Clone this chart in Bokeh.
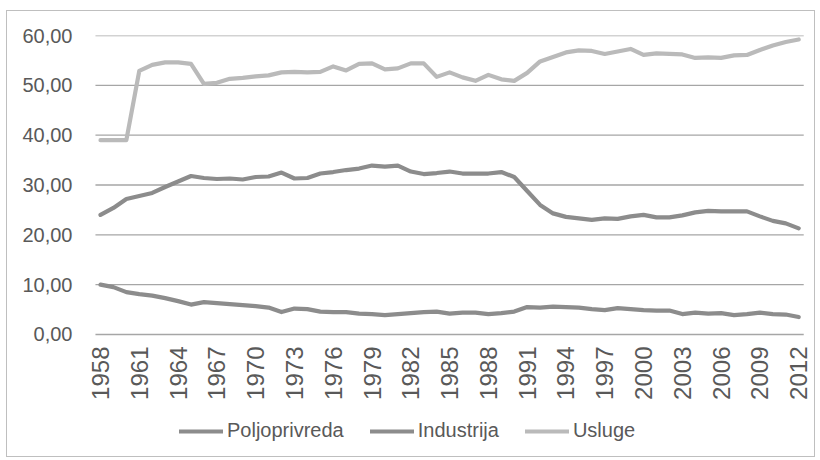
from bokeh.plotting import figure
from bokeh.models import (Range1d, FixedTicker, CustomJSTickFormatter, Legend, LegendItem)
from bokeh.core.properties import value
from bokeh.embed import file_html
from bokeh.resources import INLINE
import math

years = list(range(1958, 2013))
x_ticks = list(range(1958, 2013, 3))
x_tick_labels = [str(t) for t in x_ticks]
y_ticks = [0, 10, 20, 30, 40, 50, 60]

poljoprivreda = [10.0, 9.5, 8.5, 8.1, 7.8, 7.3, 6.7, 6.0, 6.5, 6.3, 6.1, 5.9, 5.7, 5.4,
                 4.5, 5.2, 5.1, 4.6, 4.5, 4.5, 4.2, 4.1, 3.9, 4.1, 4.3, 4.5, 4.6, 4.2,
                 4.4, 4.4, 4.1, 4.3, 4.6, 5.5, 5.4,
                 5.6, 5.5, 5.4, 5.1, 4.9, 5.3, 5.1, 4.9, 4.8, 4.8, 4.1, 4.4, 4.2, 4.3,
                 3.9, 4.1, 4.4, 4.1, 4.0, 3.5]
industrija = [24.0, 25.4, 27.2, 27.8, 28.4, 29.6, 30.7, 31.8, 31.4, 31.2, 31.3, 31.1, 31.6,
              31.7, 32.5, 31.3, 31.4, 32.3, 32.6, 33.0, 33.3, 33.9, 33.7, 33.9, 32.7, 32.2,
              32.4, 32.7,
              32.3, 32.3, 32.3, 32.6, 31.6, 28.8, 26.0, 24.3, 23.6, 23.3, 23.0, 23.3, 23.2,
              23.7, 24.0, 23.5, 23.5, 23.9, 24.5, 24.8, 24.7, 24.7, 24.7, 23.7, 22.8, 22.3,
              21.3]
usluge = [39.0, 39.0, 39.0,
          52.9, 54.1, 54.6, 54.6, 54.3, 50.3, 50.5, 51.3, 51.5, 51.8, 52.0, 52.6, 52.7,
          52.6, 52.7, 53.8, 53.0, 54.3, 54.4, 53.2, 53.4, 54.4, 54.4, 51.7, 52.6,
          51.6, 50.9, 52.1, 51.2, 50.9, 52.5, 54.8, 55.7, 56.6, 57.0, 56.9, 56.3, 56.8,
          57.3, 56.1, 56.4, 56.3, 56.2, 55.5, 55.6, 55.5, 56.0, 56.1, 57.1, 58.0, 58.7,
          59.2]

series_names = ["Poljoprivreda", "Industrija", "Usluge"]
series_colors = ["#8c8c8c", "#8c8c8c", "#bababa"]

FONT = "Liberation Sans"
TEXT = "#595959"

# the frame reaches down below zero so that the year labels and the legend sit inside it
p = figure(width=809, height=447, output_backend="svg", toolbar_location=None,
           x_range=Range1d(1956.84, 2013.30), y_range=Range1d(-23.28, 60),
           min_border_left=78, min_border_right=1, min_border_top=24, min_border_bottom=8)
p.outline_line_color = None
p.background_fill_color = "white"
p.border_fill_color = "white"
p.styles = {"margin-left": "6px", "margin-top": "10px", "border": "1px solid #bfbfbf"}

# horizontal gridlines, spanning the category area
pad = 0.39
p.segment(x0=[years[0] - pad] * len(y_ticks), x1=[years[-1] + pad] * len(y_ticks),
          y0=y_ticks, y1=y_ticks, line_color="#a6a6a6", line_width=1.3)

renderers = []
for vals, col in zip([poljoprivreda, industrija, usluge], series_colors):
    r = p.line(years, vals, line_color=col, line_width=4.2, line_cap="round", line_join="round")
    renderers.append(r)

p.xgrid.grid_line_color = None
p.ygrid.grid_line_color = None

p.yaxis.ticker = FixedTicker(ticks=y_ticks)
p.yaxis.formatter = CustomJSTickFormatter(code="return tick.toFixed(2).replace('.', ',');")
p.yaxis.axis_line_color = None
p.yaxis.major_tick_line_color = None
p.yaxis.minor_tick_line_color = None
p.yaxis.major_tick_out = 0
p.yaxis.major_label_standoff = 13
p.yaxis.major_label_text_font = FONT
p.yaxis.major_label_text_font_size = "20px"
p.yaxis.major_label_text_color = TEXT

p.xaxis.visible = False

# category (year) labels under the zero line, reading upward
p.text(x=x_ticks, y=[0] * len(x_ticks), text=x_tick_labels, angle=math.pi / 2,
       y_offset=12, text_align="right", text_baseline="middle",
       text_font=value(FONT), text_font_size=value("24px"), text_color=TEXT)

items = [LegendItem(label=n, renderers=[r]) for n, r in zip(series_names, renderers)]
legend = Legend(items=items, orientation="horizontal", location=(94, 8),
                glyph_width=44, glyph_height=20, label_height=20, label_standoff=4,
                spacing=26, padding=0, margin=0,
                border_line_color=None, background_fill_alpha=0,
                label_text_font=FONT, label_text_font_size="20px", label_text_color=TEXT)
p.add_layout(legend, "center")

open("out.html", "w").write(file_html(p, INLINE))
